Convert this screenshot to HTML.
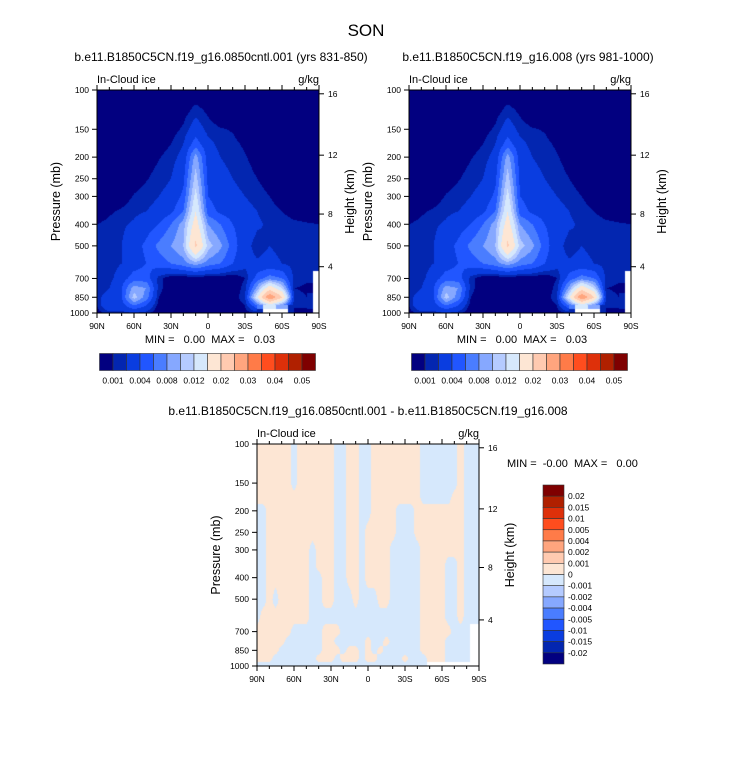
<!DOCTYPE html>
<html><head><meta charset="utf-8">
<style>
html,body{margin:0;padding:0;background:#fff;}
#wrap{position:relative;width:733px;height:760px;overflow:hidden;font-family:"Liberation Sans",Arial,sans-serif;}
canvas{position:absolute;}
svg{position:absolute;left:0;top:0;}
</style></head>
<body>
<div id="wrap">
<canvas id="c1" width="222" height="223" style="left:97px;top:90px"></canvas>
<canvas id="c2" width="222" height="223" style="left:409px;top:90px"></canvas>
<canvas id="c3" width="222" height="222" style="left:257px;top:444px"></canvas>
<svg id="svg" width="733" height="760"></svg>
</div>
<script>
// ---- data ----
const pLevels = [100,125,150,175,200,250,300,350,400,500,600,700,775,850,925,1000];
const latsTop = [90,80,70,60,50,40,30,20,10,0,-10,-20,-30,-40,-50,-60,-70,-80,-90];
const latsDiff = [90,85,80,75,70,65,60,55,50,45,40,35,30,25,20,15,10,5,0,-5,-10,-15,-20,-25,-30,-35,-40,-45,-50,-55,-60,-65,-70,-75,-80,-85,-90];
// in-cloud ice, units 1e-3 g/kg
const iceCntl = [
[0,0,0,0,0,0,0,0,0,0,0,0,0,0,0,0,0,0,0],
[0,0,0,0,0,0,0,0.5,1.5,0.8,0,0,0,0,0,0,0,0,0],
[0,0,0,0,0,0,0.5,1.2,3,1.5,1.1,0.9,0.3,0,0,0,0,0,0],
[0,0,0,0,0,0.4,1.0,2,5,2.5,1.6,1.3,0.8,0,0,0,0,0,0],
[0,0,0,0,0.3,0.9,1.5,2.5,9,3,2,1.6,1.1,0.5,0,0,0,0,0],
[0,0,0,0.4,0.9,1.5,2,3.5,11,3.5,2.5,2,1.5,1.0,0.4,0,0,0,0],
[0,0,0.3,1.1,1.5,2,2.5,4.5,13,4,3,2.5,2,1.5,1.0,0.4,0,0,0],
[0.3,0.8,1.2,1.7,2,2.5,3.5,6,15,5,3.5,3,2.5,2,1.4,1.0,0.6,0.4,0.3],
[1.0,1.3,1.8,2.2,3,4,6,9,17,8,6,4,3,2.2,1.8,1.4,1.2,1.1,1.0],
[1.2,1.5,2,3,4.5,6.5,8,10,21,11,8.5,5,2.5,1.5,2,1.6,1.4,1.3,1.2],
[1.2,1.4,2,3,4,5,6,7,9,7,6,4,2.5,2.2,2.5,2,1.5,1.3,1.2],
[1.0,1.5,3,5,5,1.5,0,0,0,0,0,0,1,5,7,6,1.5,1.2,null],
[1,2,4,9,8,1.5,0,0,0,0,0,0,1.5,9,18,12,1,0.8,null],
[1.5,3,4,11,7,1,0,0,0,0,0,0,2,14,30,20,1.5,1,null],
[1,4,3,6,4,0.5,0,0,0,0,0,0,1,6,12,8,1,1.2,null],
[0.5,1.5,1.5,2,1.5,0,0,0,0,0,0,0,0.5,1,null,null,1,0.5,null]
];
const ice008 = [
[0,0,0,0,0,0,0,0,0,0,0,0,0,0,0,0,0,0,0],
[0,0,0,0,0,0,0,0.5,1.5,0.8,0,0,0,0,0,0,0,0,0],
[0,0,0,0,0,0,0.5,1.2,3,1.5,1.1,0.9,0.3,0,0,0,0,0,0],
[0,0,0,0,0,0.4,1.0,2,5,2.5,1.6,1.3,0.8,0,0,0,0,0,0],
[0,0,0,0,0.3,0.9,1.5,2.5,9,3,2,1.6,1.1,0.5,0,0,0,0,0],
[0,0,0,0.4,0.9,1.5,2,3.5,11,3.5,2.5,2,1.5,1.0,0.4,0,0,0,0],
[0,0,0.3,1.1,1.5,2,2.5,4.5,13,4,3,2.5,2,1.5,1.0,0.4,0,0,0],
[0.3,0.8,1.2,1.7,2,2.5,3.5,6,15,5,3.5,3,2.5,2,1.4,1.0,0.6,0.4,0.3],
[1.0,1.3,1.8,2.2,3,4,6,9,17,8,6,4,3,2.2,1.8,1.4,1.2,1.1,1.0],
[1.2,1.5,2,3,4.5,6.5,8,10,21,11,8.5,5,2.5,1.5,2,1.6,1.4,1.3,1.2],
[1.2,1.4,2,3,4,5,6,7,9,7,6,4,2.5,2.2,2.5,2,1.5,1.3,1.2],
[1.0,1.5,3,5,5,1.5,0,0,0,0,0,0,1,5,7,6,1.5,1.2,null],
[1,2,4,9,8,1.5,0,0,0,0,0,0,1.5,9,18,12,1,0.8,null],
[1.5,3,4,11,7,1,0,0,0,0,0,0,2,14,30,20,1.5,1,null],
[1,4,3,6,4,0.5,0,0,0,0,0,0,1,6,12,8,1,1.2,null],
[0.5,1.5,1.5,2,1.5,0,0,0,0,0,0,0,0.5,1,null,null,1,0.5,null]
];
// difference, units 1e-4 g/kg
const iceDiff = [
[5,5,5,5,5,5,-5,5,5,5,5,5,5,-5,-5,5,5,-5,-5,5,5,5,5,5,5,5,5,-5,-5,-5,-5,-5,-5,5,-5,-5,-5],
[5,5,5,5,5,5,-5,5,5,5,5,5,5,-5,-5,5,5,-5,-5,5,5,5,5,5,5,5,5,-5,-5,-5,-5,-5,-5,5,-5,-5,-5],
[5,5,5,5,5,5,-5,5,5,5,5,5,5,-5,-5,5,5,-5,-5,5,5,5,5,5,5,5,5,-5,-5,-5,-5,-5,-5,5,-5,-5,-5],
[5,5,5,5,5,5,5,5,5,5,5,5,5,-5,-5,5,5,-5,-5,5,5,5,5,5,5,5,5,-5,-5,-5,-5,-5,5,5,-5,-5,-5],
[-5,-5,5,5,5,5,5,5,5,5,5,5,5,-5,-5,5,5,-5,-5,5,5,5,5,-5,-5,-5,5,5,5,5,5,5,5,5,-5,-5,-5],
[-5,-5,5,5,5,5,5,5,5,5,5,5,5,-5,-5,5,5,-5,5,5,5,5,5,-5,-5,-5,5,5,5,5,5,5,5,5,-5,-5,-5],
[-5,-5,5,5,5,5,5,5,5,-5,5,5,5,-5,-5,5,5,-5,5,5,5,5,-5,-5,-5,-5,-5,5,5,5,5,5,5,5,-5,-5,-5],
[-5,-5,5,5,5,5,5,5,5,-5,5,5,5,-5,-5,5,5,-5,5,5,5,5,-5,-5,-5,-5,-5,5,5,5,5,-5,-5,5,-5,-5,-5],
[-5,-5,5,5,5,5,5,5,5,-5,-5,5,5,-5,-5,5,5,-5,5,5,5,5,-5,-5,-5,-5,-5,5,5,5,5,-5,-5,5,-5,-5,-5],
[-5,-5,5,-5,5,5,5,5,5,-5,-5,5,5,-5,-5,-5,5,-5,-5,-5,5,5,-5,-5,-5,-5,-5,5,5,5,5,-5,-5,5,-5,-5,-5],
[-5,5,5,5,5,5,5,5,5,-5,-5,-5,-5,-5,-5,-5,-5,-5,-5,-5,-5,-5,-5,-5,-5,-5,-5,5,5,5,5,-5,-5,5,-5,-5,-5],
[5,5,5,5,5,5,-5,-5,-5,-5,-5,5,5,5,-5,-5,-5,-5,-5,-5,-5,-5,-5,-5,-5,-5,-5,5,5,5,5,5,-5,-5,-5,null,null],
[5,5,5,5,5,-5,-5,-5,-5,-5,-5,5,5,-5,-5,-5,-5,-5,5,-5,-5,5,-5,-5,-5,-5,-5,5,5,5,5,-5,-5,-5,-5,null,null],
[5,5,5,5,-5,-5,-5,-5,-5,-5,-5,5,5,5,-5,5,5,-5,5,-5,5,-5,-5,-5,-5,-5,-5,5,5,5,5,-5,-5,-5,-5,null,null],
[5,5,5,-5,-5,-5,-5,-5,-5,-5,5,5,5,-5,5,5,5,-5,5,5,-5,-5,-5,-5,5,-5,-5,-5,5,5,5,-5,-5,-5,-5,null,null],
[-5,-5,-5,-5,-5,-5,-5,-5,-5,-5,-5,-5,-5,-5,-5,-5,-5,-5,-5,-5,-5,-5,-5,-5,-5,-5,-5,-5,null,null,null,null,null,null,null,null,null]
];
const topLevels = [0.001,0.002,0.004,0.006,0.008,0.01,0.012,0.015,0.02,0.025,0.03,0.035,0.04,0.045,0.05];
const topLabels = ["0.001","0.004","0.008","0.012","0.02","0.03","0.04","0.05"];
const diffLevels = [-0.02,-0.015,-0.01,-0.005,-0.004,-0.002,-0.001,0,0.001,0.002,0.004,0.005,0.01,0.015,0.02];
const diffLabels = ["-0.02","-0.015","-0.01","-0.005","-0.004","-0.002","-0.001","0","0.001","0.002","0.004","0.005","0.01","0.015","0.02"];
const colors = ["#020080","#0326b0","#0a3de0","#2156ff","#4a7dff","#86a8ff","#b5cbff","#d6e8fc","#fde6d4","#ffcab0","#ffa57e","#ff7b48","#ff4d1e","#de300a","#b02000","#7f0000"];
const pTicks = [100,150,200,250,300,400,500,700,850,1000];
const hTickLabels = ["4","8","12","16"];
const hTickP = [620,360,196,104];
const latTicks = [90,60,30,0,-30,-60,-90];
const latTickLabels = ["90N","60N","30N","0","30S","60S","90S"];

// ---- helpers ----
const NS="http://www.w3.org/2000/svg";
const svg=document.getElementById('svg');
function mk(tag,attrs,parent){const e=document.createElementNS(NS,tag);for(const k in attrs)e.setAttribute(k,attrs[k]);(parent||svg).appendChild(e);return e;}
function txt(x,y,s,size,anchor,parent,rot){const t=mk('text',{x:x,y:y,'font-size':size,'text-anchor':anchor||'start',fill:'#000','font-family':'"Liberation Sans",Arial,sans-serif'},parent);if(rot)t.setAttribute('transform','rotate(-90 '+x+' '+y+')');t.textContent=s;return t;}
function yScale(p,y0,h){return y0+(Math.log10(p)-2)*h;}
function xScale(lat,x0,w){return x0+(90-lat)/180*w;}
function colorIdx(v,levels){let i=0;while(i<levels.length&&v>=levels[i])i++;return i;}
function hexRGB(h){return [parseInt(h.substr(1,2),16),parseInt(h.substr(3,2),16),parseInt(h.substr(5,2),16)];}
const rgb=colors.map(hexRGB);

function drawField(id,lats,grid,scale,levels){
  const cv=document.getElementById(id),ctx=cv.getContext('2d');
  const W=cv.width,H=cv.height,img=ctx.createImageData(W,H);
  const step=(lats[0]-lats[lats.length-1])/(lats.length-1);
  const lp=pLevels.map(p=>Math.log10(p));
  for(let py=0;py<H;py++){
    const lg=2+(py+0.5)/H;
    let k=0;while(k<lp.length-2&&lg>lp[k+1])k++;
    let t=(lg-lp[k])/(lp[k+1]-lp[k]);t=Math.max(0,Math.min(1,t));
    for(let px=0;px<W;px++){
      const lat=90-180*(px+0.5)/W;
      let fi=(lats[0]-lat)/step;let j=Math.min(Math.floor(fi),lats.length-2);let s=fi-j;
      const a=grid[k][j],b=grid[k][j+1],c=grid[k+1][j],d=grid[k+1][j+1];
      const near=(t<0.5?(s<0.5?a:b):(s<0.5?c:d));
      const o=(py*W+px)*4;
      if(near===null){img.data[o]=255;img.data[o+1]=255;img.data[o+2]=255;img.data[o+3]=255;continue;}
      let v;
      if(a===null||b===null||c===null||d===null)v=near;
      else v=(a*(1-s)+b*s)*(1-t)+(c*(1-s)+d*s)*t;
      const col=rgb[colorIdx(v*scale,levels)];
      img.data[o]=col[0];img.data[o+1]=col[1];img.data[o+2]=col[2];img.data[o+3]=255;
    }
  }
  ctx.putImageData(img,0,0);
}

function drawAxes(x0,y0,w,h,prefix){
  const g=mk('g',{});
  
  
  mk('rect',{x:x0,y:y0,width:w,height:h,fill:'none',stroke:'#000','stroke-width':1},g);
  pTicks.forEach(p=>{const y=yScale(p,y0,h);mk('line',{x1:x0-5,y1:y,x2:x0,y2:y,stroke:'#000','stroke-width':1},g);
    const t=txt(x0-8,y+3,String(p),8.5,'end',g);});
  hTickP.forEach((p,i)=>{const y=yScale(p,y0,h);mk('line',{x1:x0+w,y1:y,x2:x0+w+5,y2:y,stroke:'#000','stroke-width':1},g);
    const t=txt(x0+w+9,y+3,hTickLabels[i],8.5,'start',g);});
  for(let lat=90;lat>=-90;lat-=10){const x=xScale(lat,x0,w);const major=lat%30===0;const L=major?5:3;
    mk('line',{x1:x,y1:y0+h,x2:x,y2:y0+h+L,stroke:'#000','stroke-width':1},g);
    mk('line',{x1:x,y1:y0,x2:x,y2:y0-L,stroke:'#000','stroke-width':1},g);}
  latTicks.forEach((lat,i)=>{const t=txt(xScale(lat,x0,w),y0+h+16,latTickLabels[i],8.5,'middle',g);});
  let t=txt(x0-37,y0+h/2,'Pressure (mb)',12.5,'middle',g,true);
  t=txt(x0+w+35,y0+h/2,'Height (km)',12.5,'middle',g,true);
  t=txt(x0,y0-7,'In-Cloud ice',11,'start',g);
  t=txt(x0+w,y0-7,'g/kg',11,'end',g);
}

function hColorbar(x0,y0,w,h,prefix){
  const g=mk('g',{});
  
  
  const n=colors.length,bw=w/n;
  colors.forEach((c,i)=>{const r=mk('rect',{x:x0+i*bw,y:y0,width:bw,height:h,fill:c,stroke:'#333','stroke-width':0.6},g);
    });
  topLabels.forEach((s,i)=>{const t=txt(x0+(2*i+1)*bw,y0+h+13,s,8.5,'middle',g);});
}
function vColorbar(x0,y0,w,h){
  const g=mk('g',{});
  
  
  const n=colors.length,bh=h/n;
  for(let i=0;i<n;i++){const r=mk('rect',{x:x0,y:y0+i*bh,width:w,height:bh,fill:colors[n-1-i],stroke:'#333','stroke-width':0.6},g);
    }
  diffLabels.forEach((s,i)=>{const y=y0+(n-1-i)*bh;const t=txt(x0+w+4,y+3,s,8.5,'start',g);});
}

drawField('c1',latsTop,iceCntl,0.001,topLevels);
drawField('c2',latsTop,ice008,0.001,topLevels);
drawField('c3',latsDiff,iceDiff,0.0001,diffLevels);
drawAxes(97,90,222,223,'cntl');
drawAxes(409,90,222,223,'exp008');
drawAxes(257,444,222,222,'difference');
hColorbar(99.5,353.5,216,17,'cntl');
hColorbar(411.5,353.5,216,17,'exp008');
vColorbar(543,485,21,179);

const NB='\u00a0';
let t;
t=txt(366,36,'SON',17,'middle');
t=txt(221,61,'b.e11.B1850C5CN.f19_g16.0850cntl.001 (yrs 831-850)',12,'middle');
t=txt(528,61,'b.e11.B1850C5CN.f19_g16.008 (yrs 981-1000)',12,'middle');
t=txt(210,343,'MIN ='+NB+NB+NB+'0.00'+NB+NB+'MAX ='+NB+NB+NB+'0.03',11,'middle');
t=txt(522,343,'MIN ='+NB+NB+NB+'0.00'+NB+NB+'MAX ='+NB+NB+NB+'0.03',11,'middle');
t=txt(368,415,'b.e11.B1850C5CN.f19_g16.0850cntl.001 - b.e11.B1850C5CN.f19_g16.008',12,'middle');
t=txt(507,467,'MIN ='+NB+NB+'-0.00'+NB+NB+'MAX ='+NB+NB+NB+'0.00',11,'start');
</script>
</body></html>
